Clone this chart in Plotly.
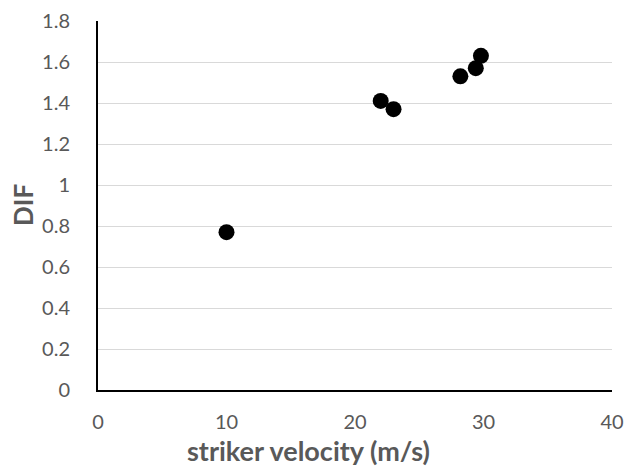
import plotly.graph_objects as go

velocity = [10.0, 22.0, 23.0, 28.2, 29.4, 29.8]
dif = [0.77, 1.41, 1.37, 1.53, 1.57, 1.63]

x_ticks = [0, 10, 20, 30, 40]
y_ticks = [0, 0.2, 0.4, 0.6, 0.8, 1.0, 1.2, 1.4, 1.6, 1.8]
y_labels = ["0", "0.2", "0.4", "0.6", "0.8", "1", "1.2", "1.4", "1.6", "1.8"]

x_title = "striker velocity (m/s)"
y_title = "DIF"

fig = go.Figure(go.Scatter(
    x=velocity, y=dif, mode="markers",
    marker=dict(color="black", size=16),
))

font = "Lato, Open Sans, sans-serif"
grey = "#595959"
L, R, T, B = 98, 19, 21, 84
W, H = 631, 474
pw, ph = W - L - R, H - T - B

fig.update_layout(
    width=W, height=H,
    margin=dict(l=L, r=R, t=T, b=B, autoexpand=False),
    paper_bgcolor="white", plot_bgcolor="white",
    showlegend=False,
    font=dict(family=font, color=grey, size=20),
)
fig.update_xaxes(
    range=[0, 40], tickvals=x_ticks, showgrid=False, zeroline=False,
    showline=True, linecolor="black", linewidth=2,
    ticks="", ticklabelstandoff=13, automargin=False,
    tickfont=dict(family=font, size=20, color=grey),
)
fig.update_yaxes(
    range=[0, 1.8], tickvals=y_ticks, ticktext=y_labels,
    showgrid=True, gridcolor="#d9d9d9", gridwidth=1, zeroline=False,
    showline=True, linecolor="black", linewidth=2,
    ticks="", ticklabelstandoff=22, automargin=False,
    tickfont=dict(family=font, size=20, color=grey),
)
fig.add_annotation(
    text="<b>" + x_title + "</b>", xref="paper", yref="paper",
    x=(308 - L) / pw, y=(H - B - 451) / ph, xanchor="center", yanchor="middle",
    showarrow=False, font=dict(family=font, size=27, color=grey),
)
fig.add_annotation(
    text="<b>" + y_title + "</b>", xref="paper", yref="paper",
    x=(23 - L) / pw, y=(H - B - 205) / ph, xanchor="center", yanchor="middle",
    textangle=-90, showarrow=False, font=dict(family=font, size=26, color=grey),
)
fig.write_html(
    "out.html",
    config={"displayModeBar": False},
    post_script="document.body.style.margin='0px';document.body.style.overflow='hidden';",
)
